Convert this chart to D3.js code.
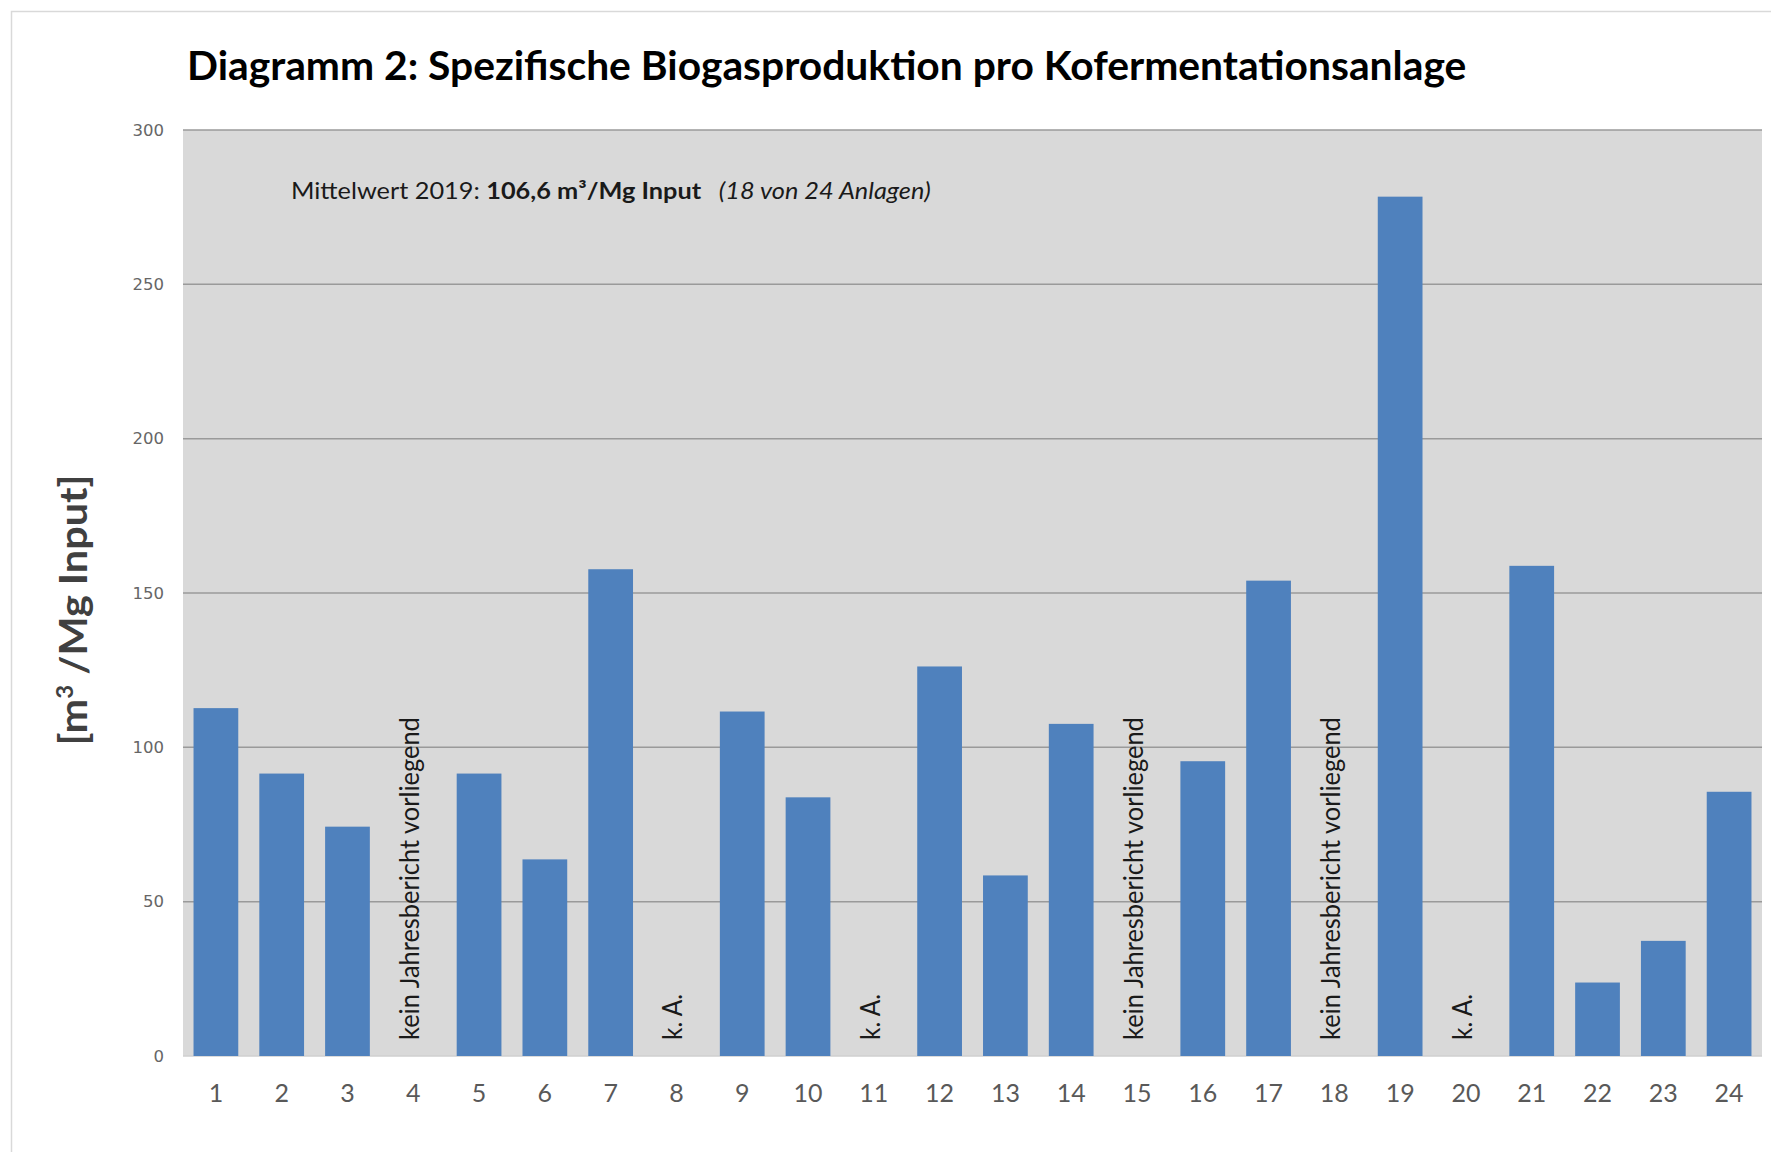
<!DOCTYPE html>
<html>
<head>
<meta charset="utf-8">
<script src="https://cdn.jsdelivr.net/npm/d3@7"></script>
<style>
  body { margin: 0; background: #fff; }
  svg { display: block; }
</style>
</head>
<body>
<div id="chart"></div>
<script>
// data
var categories = ["1","2","3","4","5","6","7","8","9","10","11","12","13","14","15","16","17","18","19","20","21","22","23","24"];
var values = [112.7, 91.5, 74.3, null, 91.5, 63.7, 157.7, null, 111.6, 83.8, null, 126.2,
              58.5, 107.6, null, 95.5, 154.0, null, 278.4, null, 158.8, 23.8, 37.3, 85.6];
var noteCats = ["4", "8", "11", "15", "18", "20"];
var noteTexts = ["kein Jahresbericht vorliegend", "k. A.", "k. A.", "kein Jahresbericht vorliegend", "kein Jahresbericht vorliegend", "k. A."];
var yTicks = [0, 50, 100, 150, 200, 250, 300];

var width = 1771,
    height = 1152,
    plotLeft = 183,
    plotRight = 1762,
    plotTop = 130,
    plotBottom = 1056;

var svg = d3.select("#chart").append("svg")
    .attr("width", width)
    .attr("height", height);

// chart frame
svg.append("rect")
  .attr("x", 11.5).attr("y", 11.5)
  .attr("width", 1800).attr("height", 1200)
  .style("fill", "#fff")
  .style("stroke", "#d9d9d9")
  .style("stroke-width", 1.5);

var x = d3.scaleBand()
  .domain(categories)
  .range([plotLeft, plotRight])
  .paddingInner(0.32)
  .paddingOuter(0.16);

var y = d3.scaleLinear()
  .domain([0, 300])
  .range([plotBottom, plotTop]);

// squeeze a text horizontally (along its own direction) to a given width
function fitWidth(sel, target) {
  var w = sel.node().getComputedTextLength();
  return target / w;
}

// plot area
svg.append("rect")
  .attr("x", plotLeft).attr("y", plotTop)
  .attr("width", plotRight - plotLeft).attr("height", plotBottom - plotTop)
  .style("fill", "#d9d9d9");

// gridlines
svg.append("g")
  .selectAll("line")
  .data(yTicks)
  .enter()
  .append("line")
  .attr("x1", plotLeft).attr("x2", plotRight)
  .attr("y1", function(d){ return y(d); })
  .attr("y2", function(d){ return y(d); })
  .style("stroke", function(d){ return d === 0 ? "#cfcfcf" : "#9a9a9a"; })
  .style("stroke-width", 1.5);

// y axis labels
var yAxis = svg.append("g")
  .attr("transform", "translate(" + (plotLeft - 19) + ",0)")
  .call(d3.axisLeft(y).tickValues(yTicks).tickSize(0).tickPadding(0));
yAxis.select(".domain").remove();
yAxis.selectAll("text")
  .style("font-family", "DejaVu Sans")
  .style("font-size", "16.5px")
  .style("fill", "#666");

// bars
svg.append("g")
  .selectAll("rect")
  .data(categories.filter(function(c, i){ return values[i] !== null; }))
  .enter()
  .append("rect")
  .attr("x", function(d){ return x(d); })
  .attr("y", function(d){ return y(values[categories.indexOf(d)]); })
  .attr("width", x.bandwidth())
  .attr("height", function(d){ return plotBottom - y(values[categories.indexOf(d)]); })
  .style("fill", "#4f81bd");

// x axis labels
var xAxis = svg.append("g")
  .attr("transform", "translate(0," + (plotBottom + 28) + ")")
  .call(d3.axisBottom(x).tickSize(0).tickPadding(0));
xAxis.select(".domain").remove();
xAxis.selectAll("text")
  .attr("dy", "0.71em")
  .style("font-family", "Lato")
  .style("font-size", "25px")
  .style("fill", "#595959");

// notes for missing values
noteCats.forEach(function(c, i) {
  var cx = x(c) + x.bandwidth() / 2;
  var t = svg.append("text")
    .attr("x", 0).attr("y", 0)
    .style("font-family", "Lato")
    .style("font-size", "26px")
    .style("fill", "#1a1a1a")
    .text(noteTexts[i]);
  var s = noteTexts[i].length > 10 ? fitWidth(t, 323) : 46 / t.node().getComputedTextLength();
  t.attr("transform", "translate(" + (cx + 6) + "," + (plotBottom - 16) + ") rotate(-90) scale(" + s + ",1)");
});

// title
var title = svg.append("text")
  .attr("x", 0).attr("y", 0)
  .style("font-family", "Lato")
  .style("font-weight", "bold")
  .style("font-size", "40px")
  .style("fill", "#000")
  .text("Diagramm 2: Spezifische Biogasproduktion pro Kofermentationsanlage");
title.attr("transform", "translate(187,80) scale(" + fitWidth(title, 1280) + ",1)");

// y axis title
var yTitle = svg.append("text")
  .attr("x", 0).attr("y", 0)
  .attr("text-anchor", "middle")
  .style("font-family", "Lato")
  .style("font-weight", "bold")
  .style("font-size", "38px")
  .style("fill", "#404040");
yTitle.append("tspan").text("[m");
yTitle.append("tspan").text("3").attr("dy", -14).style("font-size", "22px");
yTitle.append("tspan").text(" /Mg Input]").attr("dy", 14);
yTitle.attr("transform", "translate(87,610) rotate(-90) scale(" + fitWidth(yTitle, 271) + ",1)");

// mean annotation
var note = svg.append("text")
  .attr("x", 0).attr("y", 0)
  .style("font-family", "Lato")
  .style("font-size", "23px")
  .style("fill", "#1a1a1a");
note.append("tspan").text("Mittelwert 2019: ");
note.append("tspan").text("106,6 m³/Mg Input").style("font-weight", "bold");
note.append("tspan").text("\u00a0\u00a0\u00a0(18 von 24 Anlagen)").style("font-style", "italic");
note.attr("transform", "translate(291,199) scale(" + fitWidth(note, 640) + ",1)");
</script>
</body>
</html>
